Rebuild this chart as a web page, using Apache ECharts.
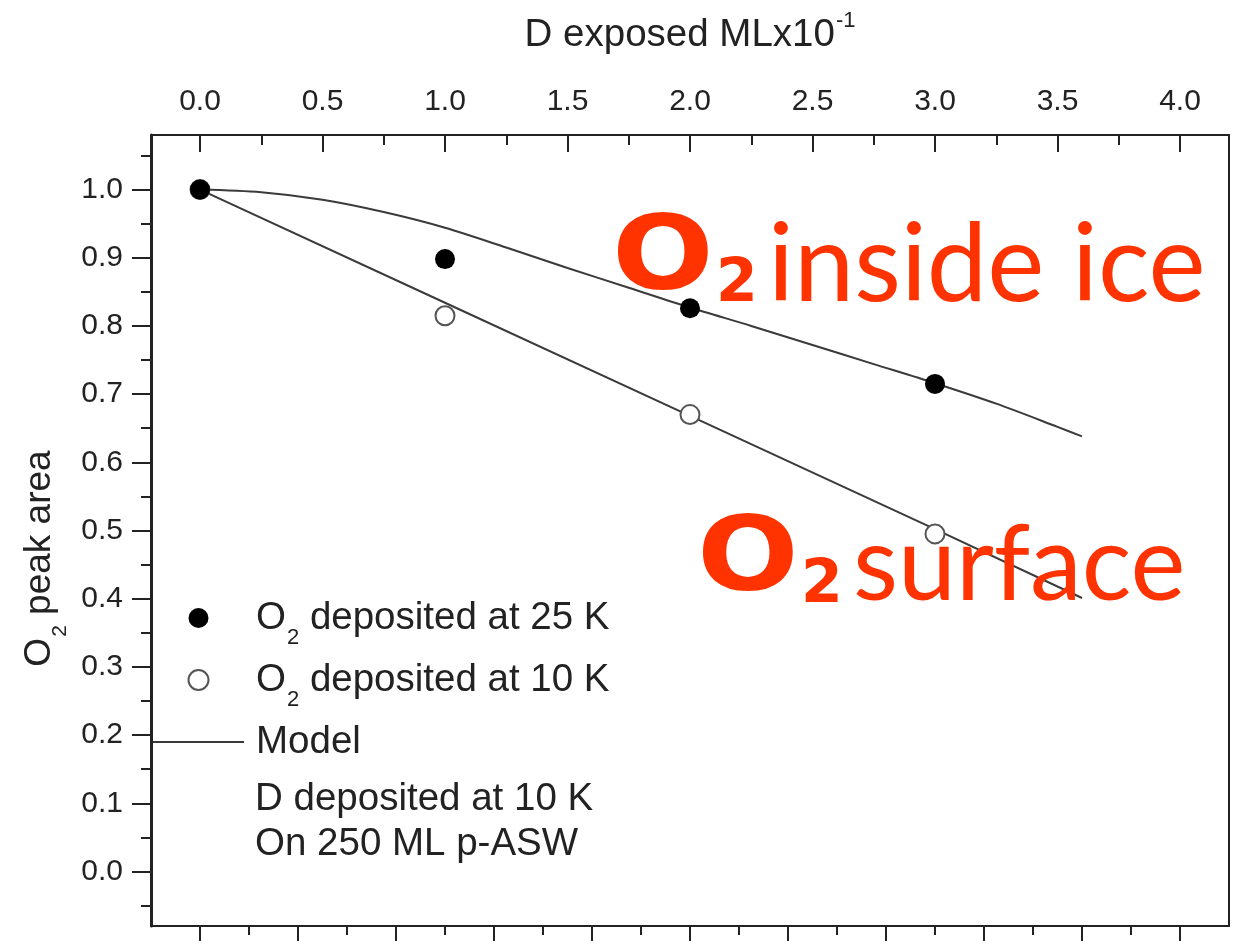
<!DOCTYPE html>
<html><head><meta charset="utf-8">
<script src="https://cdn.jsdelivr.net/npm/echarts@6/dist/echarts.min.js"></script>
<style>html,body{margin:0;padding:0;background:#fff}#c{width:1233px;height:941px}</style>
</head><body><div id="c"></div>
<script>
// ---- data ----
const topTicks = [0, 0.5, 1.0, 1.5, 2.0, 2.5, 3.0, 3.5, 4.0];
const topMinor = [0.25, 0.75, 1.25, 1.75, 2.25, 2.75, 3.25, 3.75];
const bottomTicks = [0, 0.4, 0.8, 1.2, 1.6, 2.0, 2.4, 2.8, 3.2, 3.6, 4.0];
const bottomMinor = [0.2, 0.6, 1.0, 1.4, 1.8, 2.2, 2.6, 3.0, 3.4, 3.8];
const yTicks = [0, 0.1, 0.2, 0.3, 0.4, 0.5, 0.6, 0.7, 0.8, 0.9, 1.0];
const yMinor = [-0.05, 0.05, 0.15, 0.25, 0.35, 0.45, 0.55, 0.65, 0.75, 0.85, 0.95, 1.05];

const dose25 = [0, 1, 2, 3];
const area25 = [1.0, 0.898, 0.826, 0.715];
const dose10 = [0, 1, 2, 3];
const area10 = [1.0, 0.815, 0.670, 0.495];

const modelIceX = [0, 0.25, 0.5, 0.75, 1.0, 1.25, 1.5, 1.75, 2.0, 2.25, 2.5, 2.75, 3.0, 3.25, 3.5, 3.6];
const modelIceY = [1.000, 0.996, 0.985, 0.967, 0.944, 0.915, 0.885, 0.856, 0.827, 0.800, 0.772, 0.744, 0.716, 0.686, 0.652, 0.638];
const modelSurfX = [0, 1, 2, 3, 3.6];
const modelSurfY = [1.0, 0.834, 0.668, 0.502, 0.401];

const seriesNames = ['O2 deposited at 25 K', 'O2 deposited at 10 K', 'Model'];
const noteLines = ['D deposited at 10 K', 'On 250 ML p-ASW'];

// ---- chart ----
const FONT = '"Liberation Sans", Arial, Helvetica, sans-serif';
const INK = '#222';
const RED = '#ff3300';
const XMIN = -0.2, XMAX = 4.2, YMIN = -0.08, YMAX = 1.08;
const pairs = (xs, ys) => xs.map((x, i) => [x, ys[i]]);
const subRich = (size) => ({
  n: {fontSize: size, lineHeight: 40, fontFamily: FONT, color: INK},
  s: {fontSize: Math.round(size * 0.57), lineHeight: 40, fontFamily: FONT, color: INK, padding: [40, 0, 0, 1]}
});
const richName = (name) => name.startsWith('O2')
  ? '{n|O}{s|2}{n|' + name.slice(2) + '}' : '{n|' + name + '}{s|\u00a0}';

const baseX = {type: 'value', min: XMIN, max: XMAX, splitLine: {show: false}};
const baseY = {type: 'value', min: YMIN, max: YMAX, splitLine: {show: false}};
const lineStyleAxis = {color: INK, width: 2};

const chart = echarts.init(document.getElementById('c'), null, {renderer: 'canvas'});
chart.setOption({
  backgroundColor: '#fff',
  animation: false,
  grid: {left: 151, right: 4, top: 135, bottom: 15, containLabel: false},
  xAxis: [
    Object.assign({}, baseX, {
      position: 'top',
      name: '{t|D exposed MLx10}{p|-1}',
      nameLocation: 'middle', nameGap: 78,
      nameTextStyle: {rich: {
        t: {fontSize: 38.5, lineHeight: 44, fontFamily: FONT, color: INK},
        p: {fontSize: 22, lineHeight: 44, fontFamily: FONT, color: INK, padding: [0, 0, 28, 1]}
      }},
      axisLine: {show: true, onZero: false, lineStyle: lineStyleAxis},
      axisTick: {show: true, inside: true, length: 17, lineStyle: lineStyleAxis, customValues: topTicks},
      axisLabel: {show: true, margin: 18, fontSize: 30, fontFamily: FONT, color: INK, customValues: topTicks,
        formatter: v => v.toFixed(1)}
    }),
    Object.assign({}, baseX, {
      position: 'top',
      axisLine: {show: false, onZero: false},
      axisTick: {show: true, inside: true, length: 10, lineStyle: lineStyleAxis, customValues: topMinor},
      axisLabel: {show: false}
    }),
    Object.assign({}, baseX, {
      position: 'bottom',
      axisLine: {show: true, onZero: false, lineStyle: lineStyleAxis},
      axisTick: {show: true, inside: false, length: 18, lineStyle: lineStyleAxis, customValues: bottomTicks},
      axisLabel: {show: false}
    }),
    Object.assign({}, baseX, {
      position: 'bottom',
      axisLine: {show: false, onZero: false},
      axisTick: {show: true, inside: false, length: 9, lineStyle: lineStyleAxis, customValues: bottomMinor},
      axisLabel: {show: false}
    })
  ],
  yAxis: [
    Object.assign({}, baseY, {
      position: 'left',
      name: '{n|O}{s|2}{n| peak area}',
      nameLocation: 'middle', nameGap: 90,
      nameTextStyle: {rich: subRich(37), padding: [0, 56, 0, 0]},
      axisLine: {show: true, onZero: false, lineStyle: {color: INK, width: 3}},
      axisTick: {show: true, inside: false, length: 19, lineStyle: lineStyleAxis, customValues: yTicks},
      axisLabel: {show: true, margin: 28, fontSize: 30, fontFamily: FONT, color: INK, customValues: yTicks,
        formatter: v => v.toFixed(1)}
    }),
    Object.assign({}, baseY, {
      position: 'left',
      axisLine: {show: false, onZero: false},
      axisTick: {show: true, inside: false, length: 10, lineStyle: lineStyleAxis, customValues: yMinor},
      axisLabel: {show: false}
    }),
    Object.assign({}, baseY, {
      position: 'right',
      axisLine: {show: true, onZero: false, lineStyle: lineStyleAxis},
      axisTick: {show: false},
      axisLabel: {show: false}
    })
  ],
  legend: {
    data: [
      {name: seriesNames[0]},
      {name: seriesNames[1]},
      {name: seriesNames[2], itemStyle: {color: 'rgba(0,0,0,0)', borderWidth: 0, opacity: 0}}
    ],
    orient: 'vertical',
    left: 152, top: 587,
    padding: 0,
    itemWidth: 91, itemHeight: 20, itemGap: 0,
    formatter: richName,
    textStyle: {rich: subRich(38.5), padding: [0, 0, 0, 7]}
  },
  series: [
    {name: 'Model', type: 'line', data: pairs(modelIceX, modelIceY), smooth: 0.3,
     symbol: 'none', lineStyle: {color: '#3a3a3a', width: 2}, itemStyle: {color: '#3a3a3a'}, z: 2},
    {name: 'Model', type: 'line', data: pairs(modelSurfX, modelSurfY),
     symbol: 'none', lineStyle: {color: '#3a3a3a', width: 2}, itemStyle: {color: '#3a3a3a'}, z: 2},
    {name: seriesNames[1], type: 'scatter', data: pairs(dose10, area10), symbol: 'circle', symbolSize: 19,
     itemStyle: {color: '#fff', borderColor: '#555', borderWidth: 2, opacity: 1}, z: 3},
    {name: seriesNames[0], type: 'scatter', data: pairs(dose25, area25), symbol: 'circle', symbolSize: 20,
     itemStyle: {color: '#000', opacity: 1}, z: 4}
  ],
  graphic: [
    {type: 'text', x: 255, y: 777, z: 10,
     style: {text: noteLines.join('\n'), fontSize: 38.5, lineHeight: 45, fontFamily: FONT, fill: INK,
             align: 'left', verticalAlign: 'top'}},
    // red annotations
    {type: 'text', x: 612, y: 262, scaleX: 1.15, z: 20,
     style: {text: 'O', font: 'bold 104px "DejaVu Sans", sans-serif', fill: RED, align: 'left', verticalAlign: 'middle'}},
    {type: 'text', x: 716, y: 285, z: 20,
     style: {text: '2', font: 'bold 60px "DejaVu Sans", sans-serif', fill: RED, align: 'left', verticalAlign: 'middle'}},
    {type: 'text', x: 768, y: 266, z: 20,
     style: {text: 'inside ice', font: '108px Lato, "Open Sans", sans-serif', fill: RED, align: 'left', verticalAlign: 'middle'}},
    {type: 'text', x: 697, y: 563, scaleX: 1.15, z: 20,
     style: {text: 'O', font: 'bold 104px "DejaVu Sans", sans-serif', fill: RED, align: 'left', verticalAlign: 'middle'}},
    {type: 'text', x: 801, y: 586, z: 20,
     style: {text: '2', font: 'bold 60px "DejaVu Sans", sans-serif', fill: RED, align: 'left', verticalAlign: 'middle'}},
    {type: 'text', x: 853, y: 566, z: 20,
     style: {text: 'surface', font: '104px Lato, "Open Sans", sans-serif', fill: RED, align: 'left', verticalAlign: 'middle'}}
  ]
});
</script></body></html>
